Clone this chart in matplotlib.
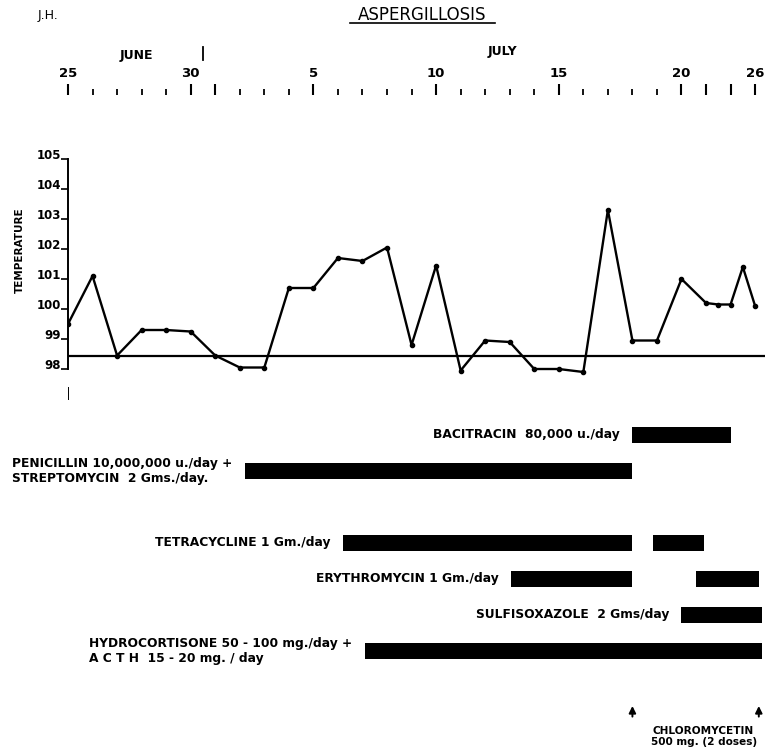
import matplotlib.pyplot as plt
import matplotlib.transforms as mtransforms
from matplotlib.lines import Line2D

# days counted from June 25 (day 0) to July 26 (day 31)
temp_days = [0, 1, 2, 3, 4, 5, 6, 7, 8, 9, 10, 11, 12, 13, 14, 15, 16, 17, 18,
             19, 20, 21, 22, 23, 24, 25, 27, 28, 29, 30, 31]
temps = [99.5, 101.1, 98.45, 99.3, 99.3, 99.25, 98.45, 98.05, 98.05, 100.7,
         100.7, 101.7, 101.6, 102.05, 98.8, 101.45, 97.95, 98.95, 98.9, 98.0,
         98.0, 97.9, 103.3, 98.95, 98.95, 101.0, 100.2, 100.15, 100.15, 101.4,
         100.1]
normal_temp = 98.43

tick_days = [0, 1, 2, 3, 4, 5, 6, 7, 8, 9, 10, 11, 12, 13, 14, 15, 16, 17, 18,
             19, 20, 21, 22, 23, 24, 25, 27, 29, 31]
major_days = [0, 5, 6, 10, 15, 20, 25, 27, 29, 31]
major_labels = ["25", "30", "", "5", "10", "15", "20", "", "", "26"]
temp_ticks = [98, 99, 100, 101, 102, 103, 104, 105]

drugs = ["BACITRACIN  80,000 u./day",
         "PENICILLIN 10,000,000 u./day +\nSTREPTOMYCIN  2 Gms./day.",
         "TETRACYCLINE 1 Gm./day",
         "ERYTHROMYCIN 1 Gm./day",
         "SULFISOXAZOLE  2 Gms/day",
         "HYDROCORTISONE 50 - 100 mg./day +\nA C T H  15 - 20 mg. / day"]
drug_rows = [0, 1, 3, 4, 5, 6]
courses = [[(23.0, 29.0)],
           [(7.2, 23.0)],
           [(11.2, 23.0), (23.85, 26.8)],
           [(18.05, 23.0), (26.2, 31.3)],
           [(25.0, 31.6)],
           [(12.1, 31.6)]]
chloro_days = [23.0, 31.3]


def pos(d):
    # the chart squeezes the last days (after July 20) to half width
    return d if d <= 25 else 25 + (d - 25) / 2.0


W, H = 765, 750
fig = plt.figure(figsize=(7.65, 7.5), dpi=100)
xmax = (765 - 68) / 24.54

# temperature panel
ax = fig.add_axes([68 / W, 1 - 400 / H, 697 / W, 305 / H])
ax.plot([pos(d) for d in temp_days], temps, color='black', lw=1.7,
        marker='o', ms=3, zorder=3)
ax.axhline(normal_temp, color='black', lw=1.6)
ax.plot([0, 0], [96.98, 97.4], color='black', lw=0.7)
ax.set_xlim(0, xmax)
ax.set_ylim(96.967, 107.133)
for s in ['top', 'right', 'bottom']:
    ax.spines[s].set_visible(False)
ax.spines['left'].set_bounds(98, 105)
ax.spines['left'].set_linewidth(1.4)
ax.set_yticks(temp_ticks)
ax.set_yticklabels([str(t) for t in temp_ticks], fontsize=8.5,
                   fontweight='bold', va='baseline')
ax.tick_params(axis='y', length=5, width=1.2, pad=0)

ax.xaxis.tick_top()
ax.set_xticks([pos(d) for d in major_days])
ax.set_xticklabels(major_labels, fontsize=9.5, fontweight='bold')
ax.set_xticks([pos(d) for d in tick_days if d not in major_days], minor=True)
ax.tick_params(axis='x', which='major', length=8, width=1.5, pad=3)
ax.tick_params(axis='x', which='minor', length=4, width=1.3)

trans = mtransforms.blended_transform_factory(ax.transData, fig.transFigure)
ax.text(2.77, 1 - 55 / H, "JUNE", transform=trans, ha='center',
        va='center', fontsize=9, fontweight='bold')
ax.text(17.7, 1 - 52 / H, "JULY", transform=trans, ha='center',
        va='center', fontsize=9, fontweight='bold')
ax.plot([5.5, 5.5], [1 - 47 / H, 1 - 60 / H], transform=trans,
        color='black', lw=1.3, clip_on=False)

fig.text(20 / W, 1 - 250 / H, "TEMPERATURE", rotation=90, ha='center',
         va='center', fontsize=7.5, fontweight='bold')
fig.text(38 / W, 1 - 15 / H, "J.H.", ha='left', va='center', fontsize=9)
fig.text(422 / W, 1 - 15 / H, "ASPERGILLOSIS", ha='center', va='center',
         fontsize=12)
fig.add_artist(Line2D([350 / W, 495 / W], [1 - 23 / H, 1 - 23 / H],
                      color='black', lw=1.2))

# treatment panel
ax2 = fig.add_axes([68 / W, 0, 697 / W, 350 / H], sharex=ax)
ax2.set_ylim(8.75, -0.972)
ax2.axis('off')
for label, row, spans in zip(drugs, drug_rows, courses):
    for a, b in spans:
        ax2.barh(row, pos(b) - pos(a), left=pos(a), height=0.46,
                 color='black')
    ax2.annotate(label, xy=(pos(spans[0][0]), row), xytext=(-9, 0),
                 textcoords='offset points', ha='right', va='center',
                 multialignment='left', fontsize=8.8, fontweight='bold',
                 linespacing=1.25)

for d in chloro_days:
    ax2.annotate('', xy=(pos(d), 7.45), xytext=(pos(d), 7.9),
                 arrowprops=dict(arrowstyle='-|>', color='black', lw=1.4,
                                 mutation_scale=10))
ax2.text(pos(26.8), 8.38, "CHLOROMYCETIN\n500 mg. (2 doses)", ha='center',
         va='center', fontsize=7.6, fontweight='bold', linespacing=1.05)

fig.savefig('out.png', dpi=100)
